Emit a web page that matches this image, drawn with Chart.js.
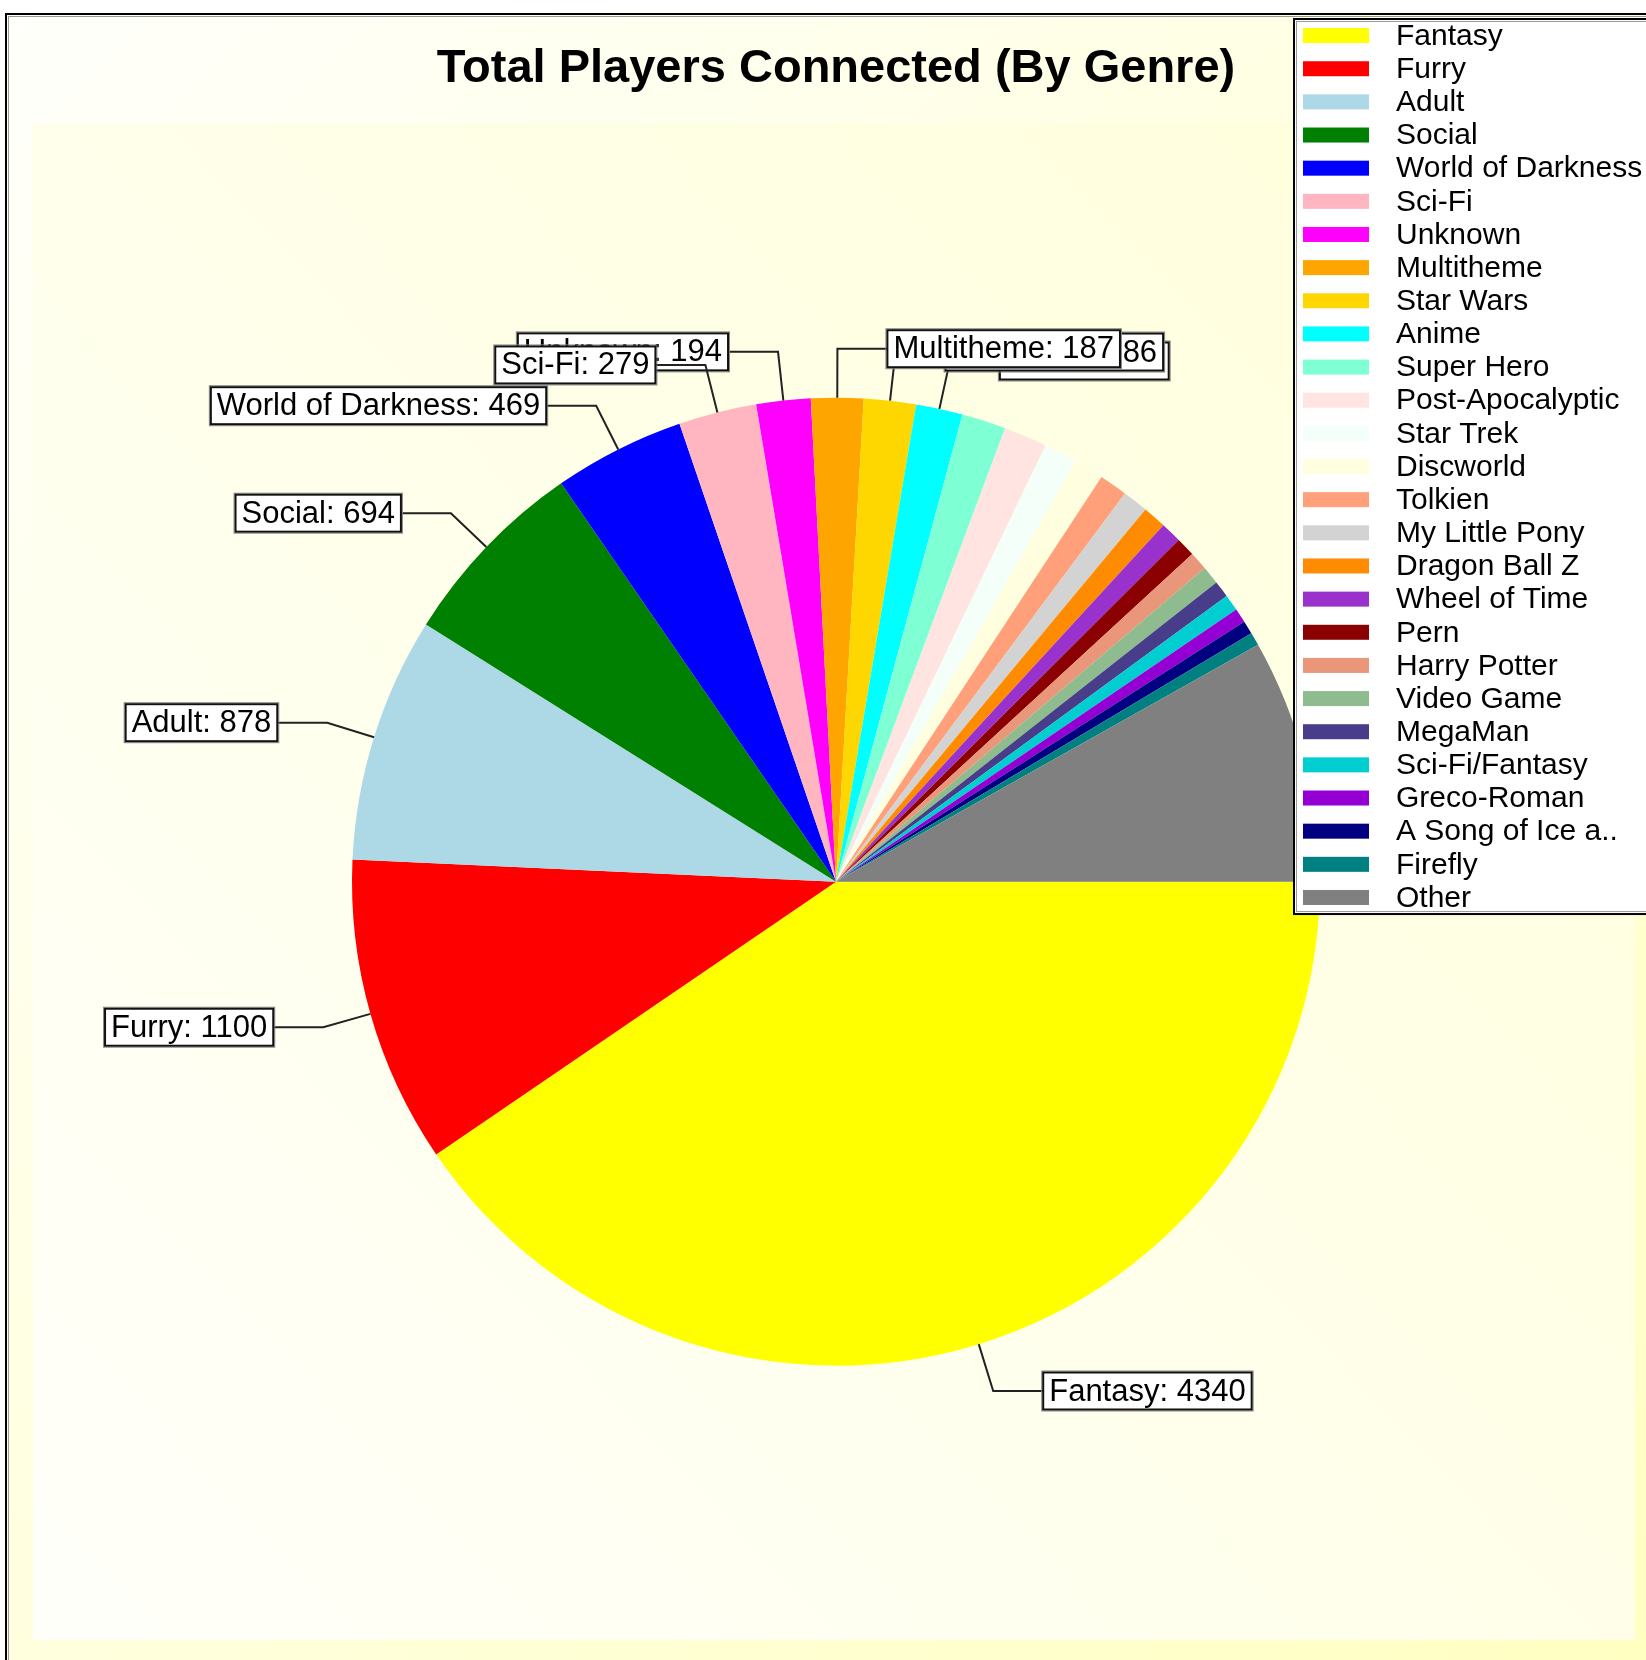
<!DOCTYPE html>
<html>
<head>
<meta charset="utf-8">
<title>Total Players Connected (By Genre)</title>
<script src="https://cdn.jsdelivr.net/npm/chart.js@4/dist/chart.umd.min.js"></script>
<style>
    html, body { margin: 0; padding: 0; background: #fff; }
    canvas { display: block; }
</style>
</head>
<body>
<canvas id="genreChart" width="1646" height="1660"></canvas>
<script>
// Genres in legend order (biggest first, "Other" last)
const genres = [
    'Fantasy', 'Furry', 'Adult', 'Social', 'World of Darkness', 'Sci-Fi',
    'Unknown', 'Multitheme', 'Star Wars', 'Anime', 'Super Hero',
    'Post-Apocalyptic', 'Star Trek', 'Discworld', 'Tolkien', 'My Little Pony',
    'Dragon Ball Z', 'Wheel of Time', 'Pern', 'Harry Potter', 'Video Game',
    'MegaMan', 'Sci-Fi/Fantasy', 'Greco-Roman', 'A Song of Ice a..', 'Firefly',
    'Other'
];

// Players connected per genre
const players = [
    4340, 1100, 878, 694, 469, 279,
    194, 187, 186, 167, 158,
    155, 120, 107, 101, 92,
    84, 75, 69, 66, 65,
    60, 59, 51, 48, 47,
    873
];

const genreColors = [
    '#FFFF00', '#FF0000', '#ADD8E6', '#008000', '#0000FF', '#FFB6C1',
    '#FF00FF', '#FFA500', '#FFD700', '#00FFFF', '#7FFFD4',
    '#FFE4E1', '#F5FFFA', '#FFFFE0', '#FFA07A', '#D3D3D3',
    '#FF8C00', '#9932CC', '#8B0000', '#E9967A', '#8FBC8F',
    '#483D8B', '#00CED1', '#9400D3', '#000080', '#008080',
    '#808080'
];

// slices below this get no callout box
const labelMin = 160;

const FONT = '"Liberation Sans", Arial, sans-serif';

// Background panels + frame
const backdrop = {
    id: 'backdrop',
    beforeDraw(chart) {
        const ctx = chart.ctx;
        const w = chart.width, h = chart.height;
        ctx.save();
        ctx.fillStyle = '#fff';
        ctx.fillRect(0, 0, w, h);

        let g = ctx.createLinearGradient(6, 14, w, h);
        g.addColorStop(0, '#fffffb');
        g.addColorStop(1, '#ffffc2');
        ctx.fillStyle = g;
        ctx.fillRect(6, 14, w, h);

        // inner plot panel
        g = ctx.createLinearGradient(1635, 123, 33, 1640);
        g.addColorStop(0, '#ffffda');
        g.addColorStop(1, '#fffffa');
        ctx.fillStyle = g;
        ctx.fillRect(33, 123, 1602, 1517);

        ctx.strokeStyle = '#999';
        ctx.lineWidth = 1;
        ctx.strokeRect(8.5, 16.5, w + 20, h + 20);
        ctx.strokeStyle = '#000';
        ctx.lineWidth = 2;
        ctx.strokeRect(6, 14, w + 20, h + 20);
        ctx.restore();
    }
};

// Boxed "Genre: value" callouts with elbow leader lines
const callouts = {
    id: 'callouts',
    afterDatasetsDraw(chart) {
        const ctx = chart.ctx;
        const meta = chart.getDatasetMeta(0);
        const values = chart.data.datasets[0].data;
        ctx.save();
        ctx.font = '31px ' + FONT;
        ctx.textBaseline = 'middle';
        // draw from last to first so earlier boxes sit on top
        for (let i = meta.data.length - 1; i >= 0; i--) {
            if (values[i] < labelMin) continue;
            const arc = meta.data[i];
            const mid = (arc.startAngle + arc.endAngle) / 2;
            const cos = Math.cos(mid), sin = Math.sin(mid);
            const r = arc.outerRadius;
            const x0 = arc.x + cos * r, y0 = arc.y + sin * r;
            const x1 = arc.x + cos * (r + 49), y1 = arc.y + sin * (r + 49);
            const dir = cos >= 0 ? 1 : -1;
            const x2 = x1 + dir * 50;

            const text = chart.data.labels[i] + ': ' + values[i];
            const bw = ctx.measureText(text).width + 12;
            const bh = 37;
            const bx = dir > 0 ? x2 : x2 - bw;
            const by = y1 - bh / 2;

            ctx.strokeStyle = '#222';
            ctx.lineWidth = 2;
            ctx.beginPath();
            ctx.moveTo(x0, y0);
            ctx.lineTo(x1, y1);
            ctx.lineTo(x2, y1);
            ctx.stroke();

            ctx.fillStyle = '#fff';
            ctx.fillRect(bx, by, bw, bh);
            ctx.strokeStyle = '#888';
            ctx.lineWidth = 1;
            ctx.strokeRect(bx - 1.5, by - 1.5, bw + 3, bh + 3);
            ctx.strokeStyle = '#111';
            ctx.lineWidth = 2;
            ctx.strokeRect(bx, by, bw, bh);
            ctx.fillStyle = '#000';
            ctx.fillText(text, bx + 6, y1 + 1);
        }
        ctx.restore();
    }
};

// Legend box in the top right corner (runs off the edge like the original)
const sideLegend = {
    id: 'sideLegend',
    afterDraw(chart) {
        const ctx = chart.ctx;
        const labels = chart.data.labels;
        const colors = chart.data.datasets[0].backgroundColor;
        const left = 1294, top = 19, rowH = 33.15;
        const bottom = top + labels.length * rowH;
        ctx.save();
        ctx.fillStyle = '#fff';
        ctx.fillRect(left, top, chart.width, bottom - top);
        ctx.strokeStyle = '#999';
        ctx.lineWidth = 1;
        ctx.strokeRect(left + 2.5, top + 2.5, chart.width, bottom - top - 5);
        ctx.strokeStyle = '#000';
        ctx.lineWidth = 2;
        ctx.strokeRect(left, top, chart.width, bottom - top);

        ctx.font = '30px ' + FONT;
        ctx.textBaseline = 'middle';
        labels.forEach((lab, i) => {
            const cy = top + rowH * (i + 0.5);
            ctx.fillStyle = colors[i];
            ctx.fillRect(left + 9, cy - 7.5, 66, 15);
            ctx.fillStyle = '#000';
            ctx.fillText(lab, left + 102, cy + 1);
        });
        ctx.restore();
    }
};

new Chart(document.getElementById('genreChart'), {
    type: 'pie',
    data: {
        labels: genres,
        datasets: [{
            data: players,
            backgroundColor: genreColors,
            borderWidth: 0
        }]
    },
    options: {
        responsive: false,
        animation: false,
        rotation: 90,
        layout: {
            padding: { left: 352, right: 326, top: 0, bottom: 294 }
        },
        plugins: {
            legend: { display: false },
            tooltip: { enabled: false },
            title: {
                display: true,
                text: 'Total Players Connected (By Genre)',
                color: '#000',
                font: { family: FONT, size: 47, weight: 'bold' },
                padding: { top: 41, bottom: 300 }
            }
        }
    },
    plugins: [backdrop, callouts, sideLegend]
});
</script>
</body>
</html>
